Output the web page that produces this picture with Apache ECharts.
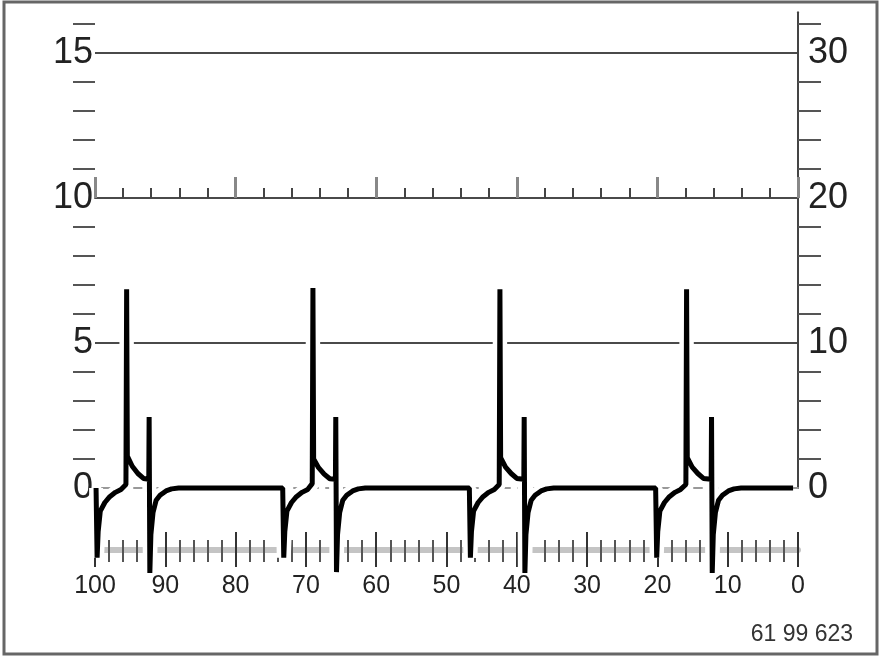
<!DOCTYPE html>
<html><head><meta charset="utf-8">
<script src="https://cdn.jsdelivr.net/npm/echarts@6/dist/echarts.min.js"></script>
<style>html,body{margin:0;padding:0;background:#fff}#c{width:889px;height:659px}</style>
</head><body><div id="c"></div>
<script>
// ---- data ----
const leftLabels = [0, 5, 10, 15];
const rightLabels = [0, 10, 20, 30];
const leftMinorTicks = [1, 2, 3, 4, 6, 7, 8, 9, 11, 12, 13, 14, 16];
const rightMinorTicks = [2, 4, 6, 8, 12, 14, 16, 18, 22, 24, 26, 28, 32];
const xLabels = [100, 90, 80, 70, 60, 50, 40, 30, 20, 10, 0];
const footnote = '61 99 623';

const cycle1 = [[99.85,0],[99.7,-2.4],[99.55,-1.5],[99.25,-0.8],[98.6,-0.5],[97.9,-0.3],[97.1,-0.15],[96.3,-0.05],[95.6,0.12],[95.5,6.85],[95.4,1.1],[94.7,0.75],[93.9,0.5],[93.1,0.33],[92.35,0.3],[92.3,2.45],[92.2,-2.93],[92.05,-1.6],[91.75,-0.85],[91.3,-0.42],[90.75,-0.25],[89.9,-0.1],[89.1,-0.03],[88.1,0]];
const cycle2 = [[73.3,0],[73.15,-2.4],[73.0,-1.5],[72.7,-0.8],[72.05,-0.5],[71.35,-0.3],[70.55,-0.15],[69.75,-0.05],[69.1,0.15],[69.0,6.9],[68.9,1.0],[68.2,0.7],[67.4,0.48],[66.6,0.32],[65.8,0.3],[65.75,2.45],[65.65,-2.9],[65.5,-1.6],[65.2,-0.85],[64.75,-0.42],[64.2,-0.25],[63.35,-0.1],[62.55,-0.03],[61.55,0]];
const cycle3 = [[46.75,0],[46.6,-2.4],[46.45,-1.5],[46.15,-0.8],[45.5,-0.5],[44.8,-0.3],[44.0,-0.15],[43.2,-0.05],[42.5,0.12],[42.4,6.85],[42.3,1.05],[41.6,0.72],[40.8,0.5],[40.0,0.33],[39.0,0.3],[38.95,2.45],[38.85,-2.93],[38.7,-1.6],[38.4,-0.85],[37.95,-0.42],[37.4,-0.25],[36.55,-0.1],[35.75,-0.03],[34.75,0]];
const cycle4 = [[20.25,0],[20.1,-2.4],[19.95,-1.5],[19.65,-0.8],[19.0,-0.5],[18.3,-0.3],[17.5,-0.15],[16.7,-0.05],[15.95,0.12],[15.85,6.85],[15.75,1.05],[15.05,0.72],[14.25,0.5],[13.45,0.33],[12.35,0.3],[12.3,2.45],[12.2,-2.93],[12.05,-1.6],[11.75,-0.85],[11.3,-0.42],[10.75,-0.25],[9.9,-0.1],[9.1,-0.03],[8.1,0]];
const tail = [[0.7,0]];

const wave = [].concat(cycle1, cycle2, cycle3, cycle4, tail);

// ---- chart ----
const FONT = "'Liberation Sans', Arial, sans-serif";
const chart = echarts.init(document.getElementById('c'), null, {renderer: 'canvas'});
const L = 95, R = 91;
const hidden = {show: false};
const xBase = {type: 'value', min: 0, max: 100, inverse: true};

chart.setOption({
  animation: false,
  backgroundColor: '#fff',
  grid: [
    {left: L, right: R, top: 12.4, bottom: 171},
    {left: L, right: R, top: 12.4, bottom: 461},
    {left: L, right: R, top: 520, bottom: 109}
  ],
  xAxis: [
    Object.assign({}, xBase, {gridIndex: 0, position: 'bottom',
      axisLine: {show: true, lineStyle: {color: '#999', width: 2, type: [8, 8]}},
      axisTick: hidden, axisLabel: hidden, splitLine: hidden}),
    Object.assign({}, xBase, {gridIndex: 1, position: 'bottom', interval: 20,
      axisLine: {show: true, lineStyle: {color: '#4a4a4a', width: 2}},
      axisTick: {show: true, inside: true, length: 21, lineStyle: {color: '#888', width: 3}},
      minorTick: {show: true, splitNumber: 5, length: 10, lineStyle: {color: '#444', width: 2}},
      axisLabel: hidden, splitLine: hidden}),
    Object.assign({}, xBase, {gridIndex: 2, position: 'bottom', interval: 10,
      axisLine: {show: true, lineStyle: {color: '#c4c4c4', width: 6}},
      axisTick: {show: true, inside: true, length: 18, lineStyle: {color: '#333', width: 2}},
      minorTick: {show: true, splitNumber: 5, length: 10, lineStyle: {color: '#555', width: 2}},
      axisLabel: hidden, splitLine: hidden}),
    Object.assign({}, xBase, {gridIndex: 2, position: 'bottom', interval: 10,
      axisLine: hidden,
      axisTick: {show: true, inside: false, length: 17, lineStyle: {color: '#333', width: 2}},
      minorTick: {show: true, splitNumber: 5, length: 12, lineStyle: {color: '#555', width: 2}},
      axisLabel: {show: true, customValues: xLabels, fontSize: 25, margin: 24, color: '#222', fontFamily: FONT},
      splitLine: hidden})
  ],
  yAxis: [
    {type: 'value', gridIndex: 0, position: 'left', min: 0, max: 16.4, interval: 5,
      axisLine: {show: true, lineStyle: {color: '#444', width: 2}},
      axisTick: hidden,
      axisLabel: {show: true, customValues: leftLabels, fontSize: 36, margin: 2, padding: [5, 0, 0, 0], color: '#222', fontFamily: FONT},
      splitLine: {show: true, showMinLine: false, showMaxLine: false, lineStyle: {color: '#4a4a4a', width: 2}}},
    {type: 'value', gridIndex: 0, position: 'left', min: 0, max: 16.4, interval: 5,
      axisLine: hidden,
      axisTick: {show: true, customValues: leftMinorTicks, length: 22, lineStyle: {color: '#555', width: 2}},
      axisLabel: hidden, splitLine: hidden},
    {type: 'value', gridIndex: 0, position: 'right', min: 0, max: 32.8, interval: 10,
      axisLine: {show: true, lineStyle: {color: '#444', width: 2}},
      axisTick: {show: true, customValues: rightMinorTicks, length: 23, lineStyle: {color: '#555', width: 2}},
      axisLabel: {show: true, customValues: rightLabels, fontSize: 36, margin: 10, padding: [7, 0, 0, 0], color: '#222', fontFamily: FONT},
      splitLine: hidden},
    {type: 'value', gridIndex: 1, show: false, min: 0, max: 1},
    {type: 'value', gridIndex: 2, show: false, min: 0, max: 1}
  ],
  graphic: [
    {type: 'rect', shape: {x: 4, y: 2, width: 873, height: 652}, style: {fill: 'none', stroke: '#666', lineWidth: 3}, silent: true},
    {type: 'text', right: 889 - 853, top: 623, style: {text: footnote, fontSize: 23, fill: '#333', fontFamily: FONT}, silent: true}
  ],
  series: [
    {type: 'line', xAxisIndex: 0, yAxisIndex: 0, data: wave, clip: false, showSymbol: false, symbol: 'none',
      lineStyle: {color: '#fff', width: 14, join: 'bevel'}, z: 3, silent: true},
    {type: 'line', xAxisIndex: 0, yAxisIndex: 0, data: wave, clip: false, showSymbol: false, symbol: 'none',
      lineStyle: {color: '#000', width: 5, join: 'bevel'}, z: 4, silent: true}
  ]
});
</script></body></html>
